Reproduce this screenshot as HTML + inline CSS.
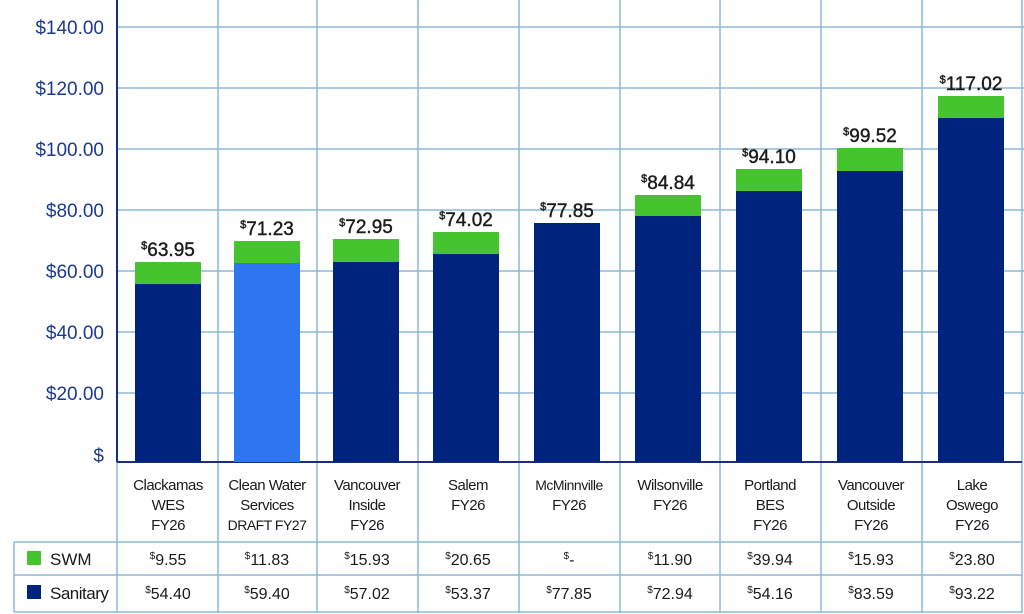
<!DOCTYPE html>
<html><head><meta charset="utf-8"><style>
html,body{margin:0;padding:0;background:#fff}
svg{display:block}
text{font-family:"Liberation Sans Narrow","Liberation Sans",sans-serif}
.cat text{letter-spacing:-0.5px}
.val{stroke:#1a1a1a;stroke-width:0.4}
</style></head><body>
<svg width="1024" height="614" viewBox="0 0 1024 614">
<g stroke="#8db8d6" stroke-width="1.5" fill="none">
<line x1="117" y1="27" x2="1024" y2="27"/>
<line x1="117" y1="88" x2="1024" y2="88"/>
<line x1="117" y1="149" x2="1024" y2="149"/>
<line x1="117" y1="210" x2="1024" y2="210"/>
<line x1="117" y1="271" x2="1024" y2="271"/>
<line x1="117" y1="332" x2="1024" y2="332"/>
<line x1="117" y1="393" x2="1024" y2="393"/>
<line x1="218" y1="0" x2="218" y2="613"/>
<line x1="317" y1="0" x2="317" y2="613"/>
<line x1="418" y1="0" x2="418" y2="613"/>
<line x1="519" y1="0" x2="519" y2="613"/>
<line x1="620" y1="0" x2="620" y2="613"/>
<line x1="720" y1="0" x2="720" y2="613"/>
<line x1="821" y1="0" x2="821" y2="613"/>
<line x1="922" y1="0" x2="922" y2="613"/>
<line x1="1022" y1="0" x2="1022" y2="613"/>
<line x1="117" y1="462" x2="117" y2="613"/>
<line x1="14" y1="542" x2="1022" y2="542"/>
<line x1="14" y1="575" x2="1022" y2="575"/>
<line x1="14" y1="612" x2="1022" y2="612"/>
<line x1="14" y1="542" x2="14" y2="612"/>
</g>
<line x1="117" y1="0" x2="117" y2="462" stroke="#1a2f7a" stroke-width="2"/>
<line x1="117" y1="462" x2="1022" y2="462" stroke="#1a2f7a" stroke-width="2"/>
<g fill="#1b3a8c" font-size="19" text-anchor="end">
<text x="104" y="34">$140.00</text>
<text x="104" y="95">$120.00</text>
<text x="104" y="156">$100.00</text>
<text x="104" y="217">$80.00</text>
<text x="104" y="278">$60.00</text>
<text x="104" y="339">$40.00</text>
<text x="104" y="400">$20.00</text>
<text x="104" y="462">$</text>
</g>
<g>
<rect x="135" y="262" width="66" height="22" fill="#45c430"/><rect x="135" y="284" width="66" height="178" fill="#00247d"/>
<rect x="234" y="241" width="66" height="22" fill="#45c430"/><rect x="234" y="263" width="66" height="199" fill="#2e75f0"/>
<rect x="333" y="239" width="66" height="23" fill="#45c430"/><rect x="333" y="262" width="66" height="200" fill="#00247d"/>
<rect x="433" y="232" width="66" height="22" fill="#45c430"/><rect x="433" y="254" width="66" height="208" fill="#00247d"/>
<rect x="534" y="223" width="66" height="239" fill="#00247d"/>
<rect x="635" y="195" width="66" height="21" fill="#45c430"/><rect x="635" y="216" width="66" height="246" fill="#00247d"/>
<rect x="736" y="169" width="66" height="22" fill="#45c430"/><rect x="736" y="191" width="66" height="271" fill="#00247d"/>
<rect x="837" y="148" width="66" height="23" fill="#45c430"/><rect x="837" y="171" width="66" height="291" fill="#00247d"/>
<rect x="938" y="96" width="66" height="22" fill="#45c430"/><rect x="938" y="118" width="66" height="344" fill="#00247d"/>
</g>
<g class="val" fill="#1a1a1a" font-size="19" text-anchor="middle">
<text x="168" y="256"><tspan font-size="11" dy="-7">$</tspan><tspan dy="7">63.95</tspan></text>
<text x="267" y="235"><tspan font-size="11" dy="-7">$</tspan><tspan dy="7">71.23</tspan></text>
<text x="366" y="233"><tspan font-size="11" dy="-7">$</tspan><tspan dy="7">72.95</tspan></text>
<text x="466" y="226"><tspan font-size="11" dy="-7">$</tspan><tspan dy="7">74.02</tspan></text>
<text x="567" y="217"><tspan font-size="11" dy="-7">$</tspan><tspan dy="7">77.85</tspan></text>
<text x="668" y="189"><tspan font-size="11" dy="-7">$</tspan><tspan dy="7">84.84</tspan></text>
<text x="769" y="163"><tspan font-size="11" dy="-7">$</tspan><tspan dy="7">94.10</tspan></text>
<text x="870" y="142"><tspan font-size="11" dy="-7">$</tspan><tspan dy="7">99.52</tspan></text>
<text x="971" y="90"><tspan font-size="11" dy="-7">$</tspan><tspan dy="7">117.02</tspan></text>
</g>
<g class="cat" fill="#1a1a1a" font-size="15" text-anchor="middle">
<text x="168" y="490">Clackamas</text><text x="168" y="510">WES</text><text x="168" y="530">FY26</text>
<text x="267" y="490">Clean Water</text><text x="267" y="510">Services</text><text x="267" y="530" font-size="14">DRAFT FY27</text>
<text x="367" y="490">Vancouver</text><text x="367" y="510">Inside</text><text x="367" y="530">FY26</text>
<text x="468" y="490">Salem</text><text x="468" y="510">FY26</text>
<text x="569" y="490" font-size="14">McMinnville</text><text x="569" y="510">FY26</text>
<text x="670" y="490">Wilsonville</text><text x="670" y="510">FY26</text>
<text x="770" y="490">Portland</text><text x="770" y="510">BES</text><text x="770" y="530">FY26</text>
<text x="871" y="490">Vancouver</text><text x="871" y="510">Outside</text><text x="871" y="530">FY26</text>
<text x="972" y="490">Lake</text><text x="972" y="510">Oswego</text><text x="972" y="530">FY26</text>
</g>
<rect x="27" y="551" width="14" height="14" fill="#45c430"/>
<rect x="27" y="585" width="14" height="14" fill="#00247d"/>
<g fill="#1a1a1a" font-size="17">
<text x="50" y="565">SWM</text>
<text x="50" y="599" letter-spacing="-0.5">Sanitary</text>
</g>
<g fill="#1a1a1a" font-size="16" text-anchor="middle">
<text x="168" y="565"><tspan font-size="10" dy="-6">$</tspan><tspan dy="6">9.55</tspan></text>
<text x="267" y="565"><tspan font-size="10" dy="-6">$</tspan><tspan dy="6">11.83</tspan></text>
<text x="367" y="565"><tspan font-size="10" dy="-6">$</tspan><tspan dy="6">15.93</tspan></text>
<text x="468" y="565"><tspan font-size="10" dy="-6">$</tspan><tspan dy="6">20.65</tspan></text>
<text x="569" y="565"><tspan font-size="10" dy="-6">$</tspan><tspan dy="6">-</tspan></text>
<text x="670" y="565"><tspan font-size="10" dy="-6">$</tspan><tspan dy="6">11.90</tspan></text>
<text x="770" y="565"><tspan font-size="10" dy="-6">$</tspan><tspan dy="6">39.94</tspan></text>
<text x="871" y="565"><tspan font-size="10" dy="-6">$</tspan><tspan dy="6">15.93</tspan></text>
<text x="972" y="565"><tspan font-size="10" dy="-6">$</tspan><tspan dy="6">23.80</tspan></text>
<text x="168" y="599"><tspan font-size="10" dy="-6">$</tspan><tspan dy="6">54.40</tspan></text>
<text x="267" y="599"><tspan font-size="10" dy="-6">$</tspan><tspan dy="6">59.40</tspan></text>
<text x="367" y="599"><tspan font-size="10" dy="-6">$</tspan><tspan dy="6">57.02</tspan></text>
<text x="468" y="599"><tspan font-size="10" dy="-6">$</tspan><tspan dy="6">53.37</tspan></text>
<text x="569" y="599"><tspan font-size="10" dy="-6">$</tspan><tspan dy="6">77.85</tspan></text>
<text x="670" y="599"><tspan font-size="10" dy="-6">$</tspan><tspan dy="6">72.94</tspan></text>
<text x="770" y="599"><tspan font-size="10" dy="-6">$</tspan><tspan dy="6">54.16</tspan></text>
<text x="871" y="599"><tspan font-size="10" dy="-6">$</tspan><tspan dy="6">83.59</tspan></text>
<text x="972" y="599"><tspan font-size="10" dy="-6">$</tspan><tspan dy="6">93.22</tspan></text>
</g>
</svg>
</body></html>
